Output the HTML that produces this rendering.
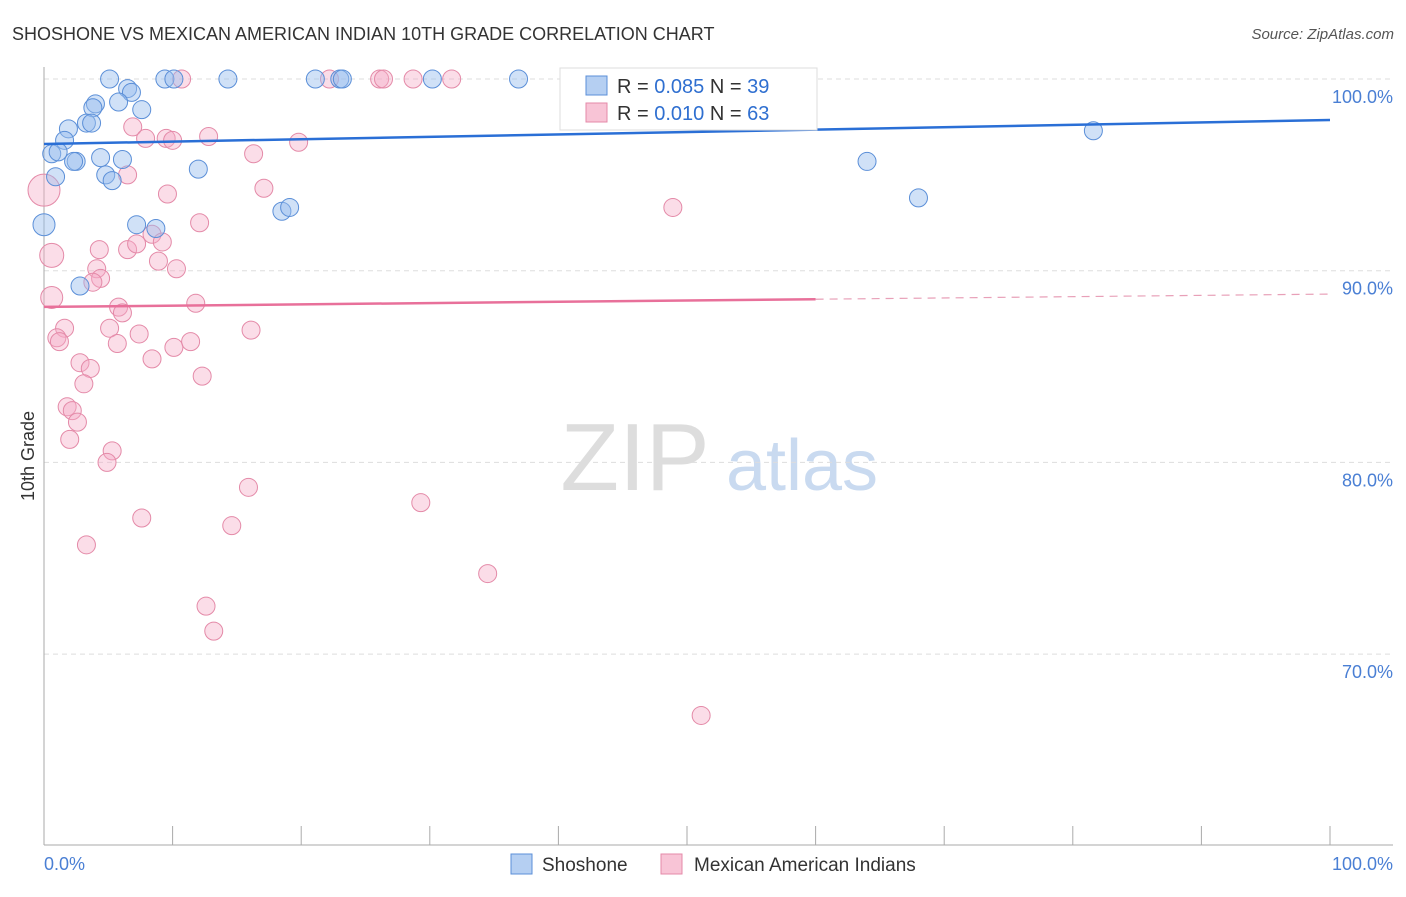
<!DOCTYPE html>
<html><head><meta charset="utf-8"><style>
body{margin:0;background:#fff;font-family:"Liberation Sans",sans-serif;}
svg text{font-family:"Liberation Sans",sans-serif;}
</style></head><body>
<svg id="chart" width="1406" height="892" viewBox="0 0 1406 892" xmlns="http://www.w3.org/2000/svg">
<text x="12" y="40" font-size="18" fill="#333">SHOSHONE VS MEXICAN AMERICAN INDIAN 10TH GRADE CORRELATION CHART</text>
<text x="1394" y="39" font-size="15" fill="#555" text-anchor="end" font-style="italic">Source: ZipAtlas.com</text>
<g>
<text x="635" y="490" font-size="96" fill="#ddd" text-anchor="middle" font-family="Liberation Serif, serif">ZIP</text>
<text x="802" y="490" font-size="72" fill="#c9daf0" text-anchor="middle">atlas</text>
</g>
<g id="grid"></g>
<g id="axes"></g>
<g id="points"></g>
<g id="trends"></g>
<text transform="translate(34,456) rotate(-90)" font-size="18" fill="#333" text-anchor="middle">10th Grade</text>
<text x="44" y="870" font-size="18" fill="#4a7fd4">0.0%</text>
<text x="1393" y="870" font-size="18" fill="#4a7fd4" text-anchor="end">100.0%</text>
<g>
<rect x="560" y="68" width="257" height="62" fill="#fff" stroke="#ddd"/>
<rect x="586" y="76" width="21" height="19" fill="#b5cff2" stroke="#5b8fd8"/>
<text x="617" y="93" font-size="20" fill="#333">R = <tspan fill="#2f6fd0">0.085</tspan>   N = <tspan fill="#2f6fd0">39</tspan></text>
<rect x="586" y="103" width="21" height="19" fill="#f8c4d6" stroke="#e48aa8"/>
<text x="617" y="120" font-size="20" fill="#333">R = <tspan fill="#2f6fd0">0.010</tspan>   N = <tspan fill="#2f6fd0">63</tspan></text>
</g>
<g>
<rect x="511" y="854" width="21" height="20" fill="#b5cff2" stroke="#5b8fd8"/>
<text x="542" y="871" font-size="19" fill="#333">Shoshone</text>
<rect x="661" y="854" width="21" height="20" fill="#f8c4d6" stroke="#e48aa8"/>
<text x="694" y="871" font-size="19" fill="#333">Mexican American Indians</text>
</g>
</svg>
<script>
const yTicks=[100,90,80,70];
const yTickLabels=["100.0%","90.0%","80.0%","70.0%"];
const xTicks=[0,10,20,30,40,50,60,70,80,90,100];
const blueX=[5.1,9.4,10.1,14.3,21.1,23.0,23.2,30.2,36.9,6.5,6.8,4.0,3.8,5.8,7.6,1.9,3.3,3.7,1.6,0.6,1.1,2.5,2.3,4.4,6.1,0.9,4.8,5.3,12.0,0,7.2,8.7,18.5,19.1,2.8,64.0,68.0,81.6,42.2];
const blueY=[100,100,100,100,100,100,100,100,100,99.5,99.3,98.7,98.5,98.8,98.4,97.4,97.7,97.7,96.8,96.1,96.2,95.7,95.7,95.9,95.8,94.9,95.0,94.7,95.3,92.4,92.4,92.2,93.1,93.3,89.2,95.7,93.8,97.3,98.2];
const pinkX=[0,0.6,0.6,10.7,22.2,26.1,26.4,28.7,31.7,6.9,7.9,9.5,10.0,12.8,16.3,19.8,6.5,9.6,17.1,12.1,8.4,4.3,6.5,7.2,9.2,8.9,10.3,4.1,4.4,3.8,11.8,5.8,6.1,1.6,1.0,1.2,5.1,7.4,5.7,10.1,11.4,16.1,8.4,12.3,2.8,3.6,3.1,1.8,2.2,2.6,2.0,5.3,4.9,15.9,14.6,7.6,3.3,12.6,13.2,29.3,34.5,48.9,51.1,43.0];
const pinkY=[94.2,90.8,88.6,100,100,100,100,100,100,97.5,96.9,96.9,96.8,97.0,96.1,96.7,95.0,94.0,94.3,92.5,91.9,91.1,91.1,91.4,91.5,90.5,90.1,90.1,89.6,89.4,88.3,88.1,87.8,87.0,86.5,86.3,87.0,86.7,86.2,86.0,86.3,86.9,85.4,84.5,85.2,84.9,84.1,82.9,82.7,82.1,81.2,80.6,80.0,78.7,76.7,77.1,75.7,72.5,71.2,77.9,74.2,93.3,66.8,98.2];
const pinkR=[16,12,11];
const blueTrend=[96.61,97.86];
const pinkTrend=[88.11,88.78];
const pinkSolidEnd=60;

const X0=44,X1=1330,YTOP=79,PXPER=19.17;
const sx=v=>X0+(X1-X0)*v/100;
const sy=v=>YTOP+(100-v)*PXPER;
const NS="http://www.w3.org/2000/svg";
function mk(tag,attrs,parent){const e=document.createElementNS(NS,tag);for(const k in attrs)e.setAttribute(k,attrs[k]);document.getElementById(parent).appendChild(e);return e;}

yTicks.forEach((t,i)=>{
  const g=mk('line',{x1:44,x2:1393,y1:sy(t),y2:sy(t),stroke:'#ddd','stroke-dasharray':'5,4'},'grid');
  
  
  const l=mk('text',{x:1393,y:sy(t)+24,'font-size':18,fill:'#4a7fd4','text-anchor':'end'},'grid');
  l.textContent=yTickLabels[i];
  
  
});
const ya=mk('line',{x1:44,x2:44,y1:67,y2:845,stroke:'#aaa'},'axes');


const xa=mk('line',{x1:44,x2:1393,y1:845,y2:845,stroke:'#aaa'},'axes');


xTicks.forEach(t=>{
  const tk=mk('line',{x1:sx(t),x2:sx(t),y1:826,y2:845,stroke:'#aaa'},'axes');
  
  
});
pinkX.forEach((x,i)=>{
  const c=mk('circle',{cx:sx(x),cy:sy(pinkY[i]),r:pinkR[i]||9,fill:'rgba(245,170,198,0.4)',stroke:'#e48aa8','stroke-width':1},'points');
  
  
});
blueX.forEach((x,i)=>{
  const c=mk('circle',{cx:sx(x),cy:sy(blueY[i]),r:i===29?11:9,fill:'rgba(150,188,238,0.45)',stroke:'#5b8fd8','stroke-width':1},'points');
  
  
});
const bt=mk('line',{x1:sx(0),x2:sx(100),y1:sy(blueTrend[0]),y2:sy(blueTrend[1]),stroke:'#2a6fd6','stroke-width':2.5},'trends');


const pm=pinkTrend[0]+(pinkTrend[1]-pinkTrend[0])*pinkSolidEnd/100;
const pt=mk('line',{x1:sx(0),x2:sx(pinkSolidEnd),y1:sy(pinkTrend[0]),y2:sy(pm),stroke:'#e8709a','stroke-width':2.5},'trends');


const pd=mk('line',{x1:sx(pinkSolidEnd),x2:sx(100),y1:sy(pm),y2:sy(pinkTrend[1]),stroke:'#e8a0b8','stroke-width':1.2,'stroke-dasharray':'8,6'},'trends');


</script>
</body></html>
